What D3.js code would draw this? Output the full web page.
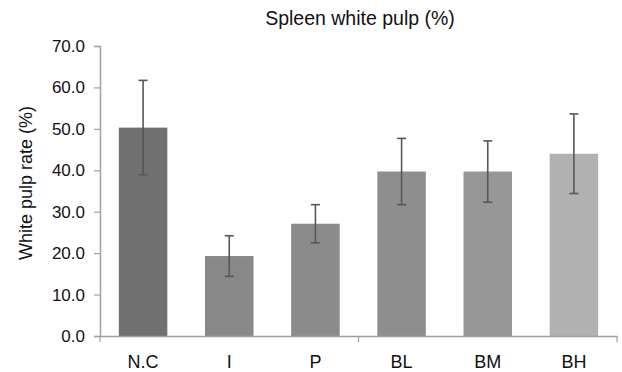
<!DOCTYPE html>
<html>
<head>
<meta charset="utf-8">
<script src="https://cdn.jsdelivr.net/npm/d3@7"></script>
<style>
  body { margin: 0; background: #fff; }
  svg { display: block; font-family: "Liberation Sans", Arial, sans-serif; }
</style>
</head>
<body>
<svg id="svg" width="622" height="372"></svg>
<script>
// data
var groups = ["N.C", "I", "P", "BL", "BM", "BH"];
var means = [50.3, 19.3, 27.1, 39.7, 39.7, 44.0];
var sds = [11.4, 4.9, 4.6, 8.0, 7.4, 9.6];
var barColors = ["#717171", "#888888", "#8b8b8b", "#8e8e8e", "#979797", "#b1b1b1"];
var yTicks = [0, 10, 20, 30, 40, 50, 60, 70];
var xTickAt = [0, 3, 6]; // category boundaries that carry a tick mark

var svg = d3.select("svg");

var x = d3.scaleBand()
        .domain(groups)
        .range([100, 617])
        .paddingInner(0.437)
        .paddingOuter(0.2185);

var y = d3.scaleLinear()
        .domain([0, 70])
        .range([336, 46]);

var data = groups.map(function (g, i) {
    return {name: g, mean: means[i], sd: sds[i], color: barColors[i]};
});

// bars
svg.append("g").selectAll("rect")
        .data(data)
        .enter().append("rect")
        .attr("x", function (d) { return x(d.name); })
        .attr("y", function (d) { return y(d.mean); })
        .attr("width", x.bandwidth())
        .attr("height", function (d) { return y(0) - y(d.mean); })
        .attr("fill", function (d) { return d.color; });

// error bars
var err = svg.append("g").attr("stroke", "#575757").attr("stroke-width", 1.6);
data.forEach(function (d) {
    var cx = x(d.name) + x.bandwidth() / 2;
    err.append("line")
            .attr("x1", cx).attr("x2", cx)
            .attr("y1", y(d.mean + d.sd)).attr("y2", y(d.mean - d.sd));
    [d.mean + d.sd, d.mean - d.sd].forEach(function (v) {
        err.append("line")
                .attr("x1", cx - 4.5).attr("x2", cx + 4.5)
                .attr("y1", y(v)).attr("y2", y(v));
    });
});

// y axis
var yAxis = svg.append("g")
        .attr("transform", "translate(100,0)")
        .call(d3.axisLeft(y).tickValues(yTicks).tickSize(6).tickPadding(9)
                .tickFormat(d3.format(".1f")));
yAxis.select(".domain").attr("stroke", "#a0a0a0").attr("stroke-width", 1.5);
yAxis.selectAll(".tick line").attr("stroke", "#a0a0a0").attr("stroke-width", 1.2);
yAxis.selectAll(".tick text").attr("font-size", 17).attr("fill", "#111")
        .attr("font-family", "Liberation Sans, Arial, sans-serif");

// x axis
var xAxis = svg.append("g")
        .attr("transform", "translate(0," + y(0) + ")")
        .call(d3.axisBottom(x).tickSize(0).tickPadding(19));
xAxis.select(".domain").attr("stroke", "#a0a0a0").attr("stroke-width", 1.5);
xAxis.selectAll(".tick text").attr("font-size", 18).attr("fill", "#111")
        .attr("font-family", "Liberation Sans, Arial, sans-serif");
xAxis.selectAll(".bound")
        .data(xTickAt)
        .enter().append("line")
        .attr("class", "bound")
        .attr("x1", function (i) { return x.range()[0] + i * x.step(); })
        .attr("x2", function (i) { return x.range()[0] + i * x.step(); })
        .attr("y1", 0).attr("y2", 6)
        .attr("stroke", "#a0a0a0").attr("stroke-width", 1.2);

// title
svg.append("text")
        .attr("x", 360)
        .attr("y", 25)
        .attr("text-anchor", "middle")
        .attr("font-size", 19.5)
        .attr("fill", "#111")
        .text("Spleen white pulp (%)");

// y axis title
svg.append("text")
        .attr("transform", "translate(32,183) rotate(-90)")
        .attr("text-anchor", "middle")
        .attr("font-size", 18)
        .attr("fill", "#111")
        .text("White pulp rate (%)");
</script>
</body>
</html>
